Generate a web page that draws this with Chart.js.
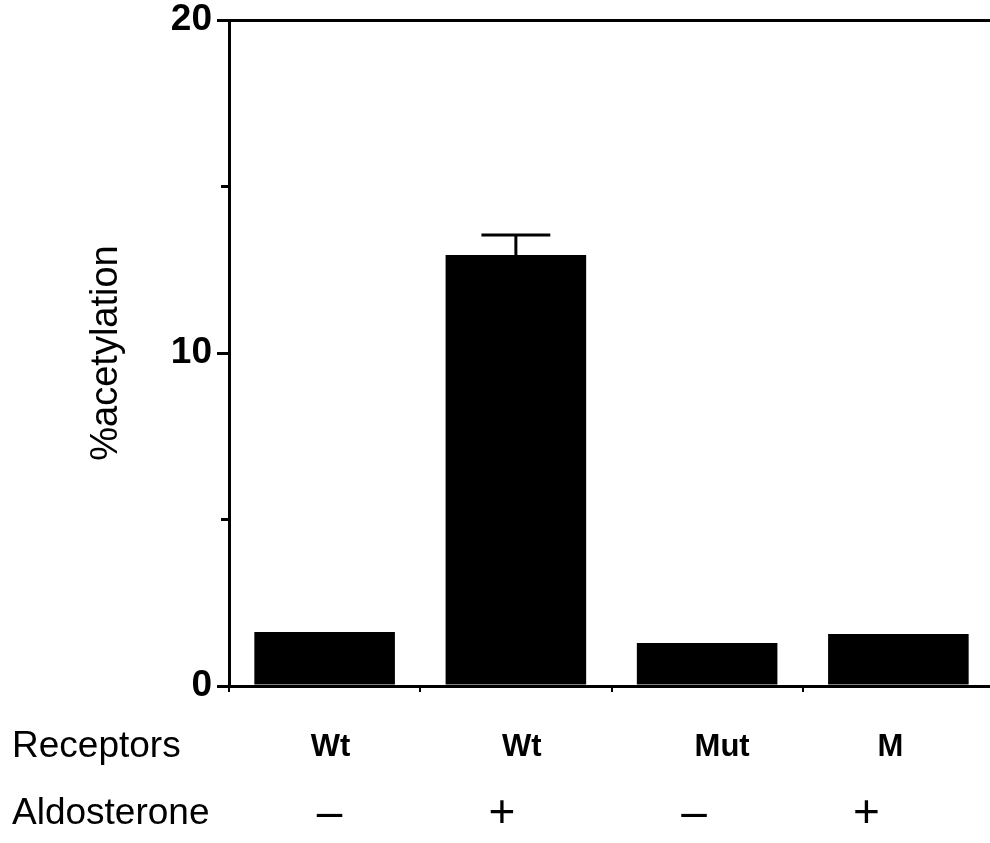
<!DOCTYPE html>
<html><head><meta charset="utf-8">
<style>html,body{margin:0;padding:0;background:#fff;overflow:hidden;width:990px;height:843px}canvas{display:block}</style>
<script src="https://cdn.jsdelivr.net/npm/chart.js@4"></script>
</head><body>
<canvas id="c" width="994" height="843"></canvas>
<script>
// ---- data ----
const receptors = ['Wt', 'Wt', 'Mut', 'M'];
const aldosterone = ['\u2013', '+', '\u2013', '+'];
const acetylation = [1.62, 12.94, 1.29, 1.56];
const errorUpper = [null, 0.6, null, null];
const yMajorTicks = [0, 10, 20];
const yMinorTicks = [5, 15];
const rowHeaders = ['Receptors', 'Aldosterone'];
const yTitle = '%acetylation';

// ---- styling ----
const FONT = "'Liberation Sans', Arial, Helvetica, sans-serif";
const NARROW = "'Liberation Sans Narrow', 'Liberation Sans', Arial, sans-serif";
const row1Font = "bold 31px " + NARROW;
const row2Font = "46px " + FONT;
const headerFont = "37px " + FONT;
const row1Y = 747, row2Y = 814;           // text centre lines of the two label rows
const row1Nudge = [6, 6, 15, -8];          // scanned-figure label offsets (px)
const row2Nudge = [5, -14, -13, -32];

const errorBars = {
  id: 'errorBars',
  afterDatasetsDraw(chart) {
    const meta = chart.getDatasetMeta(0);
    const ys = chart.scales.y;
    const ctx = chart.ctx;
    ctx.save();
    ctx.strokeStyle = '#000';
    ctx.lineWidth = 3;
    meta.data.forEach((bar, i) => {
      const e = errorUpper[i];
      if (e == null) return;
      const top = ys.getPixelForValue(acetylation[i] + e);
      const half = bar.width * 0.245;
      ctx.beginPath();
      ctx.moveTo(bar.x, bar.y);
      ctx.lineTo(bar.x, top);
      ctx.moveTo(bar.x - half, top);
      ctx.lineTo(bar.x + half, top);
      ctx.stroke();
    });
    ctx.restore();
  }
};

const extras = {
  id: 'extras',
  afterDraw(chart) {
    const ctx = chart.ctx;
    const ys = chart.scales.y, xs = chart.scales.x;
    ctx.save();
    // minor y ticks
    ctx.strokeStyle = '#000';
    ctx.lineWidth = 3;
    yMinorTicks.forEach(v => {
      const p = ys.getPixelForValue(v);
      ctx.beginPath();
      ctx.moveTo(ys.right - 8, p);
      ctx.lineTo(ys.right, p);
      ctx.stroke();
    });
    ctx.fillStyle = '#000';
    ctx.textBaseline = 'middle';
    // row headers
    ctx.font = headerFont;
    ctx.textAlign = 'left';
    ctx.fillText(rowHeaders[0], 12, row1Y);
    ctx.fillText(rowHeaders[1], 12, row2Y);
    // category rows
    ctx.textAlign = 'center';
    ctx.font = row1Font;
    receptors.forEach((t, i) => ctx.fillText(t, xs.getPixelForValue(i) + row1Nudge[i], row1Y));
    ctx.font = row2Font;
    aldosterone.forEach((t, i) => ctx.fillText(t, xs.getPixelForValue(i) + row2Nudge[i], row2Y));
    ctx.restore();
  }
};

new Chart(document.getElementById('c'), {
  type: 'bar',
  data: {
    labels: receptors,
    datasets: [{
      data: acetylation,
      backgroundColor: '#000',
      borderWidth: 0,
      barPercentage: 0.735,
      categoryPercentage: 1.0
    }]
  },
  options: {
    responsive: false,
    animation: false,
    layout: {padding: {top: 20, left: 0, right: 0, bottom: 0}},
    plugins: {legend: {display: false}, tooltip: {enabled: false}},
    scales: {
      y: {
        min: 0, max: 20,
        afterBuildTicks(scale) {
          scale.ticks = yMajorTicks.map(v => ({value: v}));
        },
        afterFit(scale) {
          scale.width = 229;
          scale.paddingTop = 0;
          scale.paddingBottom = 0;
        },
        ticks: {
          color: '#000',
          padding: 5,
          font: {family: FONT, size: 37, weight: 'bold'},
          callback: v => String(v)
        },
        grid: {
          drawOnChartArea: true,
          color: ctx => (ctx.tick && ctx.tick.value === 20) ? '#000' : 'rgba(0,0,0,0)',
          tickColor: '#000',
          lineWidth: 3,
          tickWidth: 3,
          tickLength: 12
        },
        border: {display: true, color: '#000', width: 3},
        title: {
          display: true,
          text: yTitle,
          color: '#000',
          font: {family: FONT, size: 38, weight: 'normal', lineHeight: 1.2},
          padding: {top: 84, bottom: 0}
        }
      },
      x: {
        afterFit(scale) { scale.height = 157; },
        ticks: {display: false},
        grid: {
          display: true,
          offset: true,
          drawOnChartArea: false,
          color: '#000',
          tickColor: '#000',
          tickLength: 6,
          lineWidth: 2
        },
        border: {display: true, color: '#000', width: 3}
      }
    }
  },
  plugins: [errorBars, extras]
});
</script>
</body></html>
